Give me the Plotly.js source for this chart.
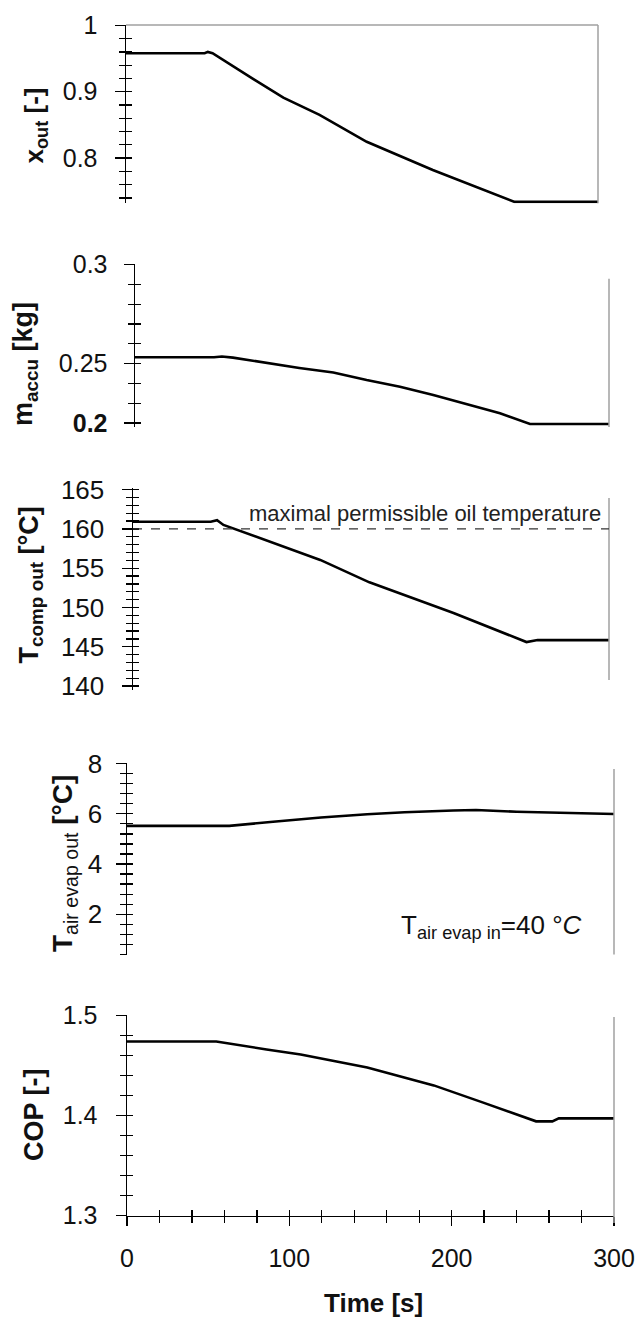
<!DOCTYPE html>
<html><head><meta charset="utf-8">
<script src="https://cdn.plot.ly/plotly-3.0.1.min.js"></script>
<style>html,body{margin:0;padding:0;background:#fff;} #chart{width:641px;height:1320px;}</style>
</head><body><div id="chart"></div>
<script>
// ---------------- DATA ----------------
const timeXout = [0, 50, 52, 55, 81, 100, 123, 153, 195, 238, 247, 300];
const xOut     = [0.958, 0.958, 0.960, 0.958, 0.919, 0.891, 0.865, 0.8245, 0.782, 0.742, 0.734, 0.734];

const timeMaccu = [0, 50, 55, 62, 104, 125.5, 146.6, 167.7, 188.8, 209.9, 231, 250, 300];
const mAccu     = [0.2532, 0.2532, 0.2536, 0.2530, 0.2478, 0.2455, 0.2417, 0.2383, 0.2341, 0.2296, 0.2249, 0.2195, 0.2195];

const timeTcomp = [0, 49, 53, 57, 118, 149, 202, 244, 248, 255, 300];
const tCompOut  = [160.9, 160.9, 161.1, 160.5, 156.05, 153.2, 149.3, 145.95, 145.6, 145.85, 145.85];
const oilLimit  = 160;

const timeTair  = [0, 63, 90, 119.5, 148, 171, 201, 215, 240, 270, 300];
const tAirOut   = [5.52, 5.52, 5.68, 5.85, 5.98, 6.06, 6.13, 6.15, 6.08, 6.02, 5.99];

const timeCop   = [0, 55, 86, 107, 148, 189, 219, 240, 252, 262, 266, 300];
const cop       = [1.474, 1.474, 1.466, 1.461, 1.448, 1.430, 1.413, 1.401, 1.394, 1.394, 1.397, 1.397];

// tick labels
const yTickVals1 = [0.8, 0.9, 1];      const yTickText1 = ['0.8', '0.9', '1'];
const yTickVals2 = [0.22, 0.25, 0.3];  const yTickText2 = ['<b>0.2</b>', '0.25', '0.3'];
const yTickVals3 = [140, 145, 150, 155, 160, 165]; const yTickText3 = ['140', '145', '150', '155', '160', '165'];
const yTickVals4 = [2, 4, 6, 8];       const yTickText4 = ['2', '4', '6', '8'];
const yTickVals5 = [1.3, 1.4, 1.5];    const yTickText5 = ['1.3', '1.4', '1.5'];
const xTickVals  = [0, 100, 200, 300]; const xTickText  = ['0', '100', '200', '300'];

const titles = [
  '<b>x<sub>out</sub> [-]</b>',
  '<b>m<sub>accu</sub> [kg]</b>',
  '<b>T<sub>comp out</sub> [°C]</b>',
  '<b>T</b><sub>air evap out</sub> <b>[°C]</b>',
  '<b>COP [-]</b>'
];
const limitLabel = 'maximal permissible oil temperature';
const inletLabel = 'T<sub>air evap in</sub>=40 °<i>C</i>';
const xTitle = '<b>Time [s]</b>';

// ---------------- LAYOUT HELPERS ----------------
const W = 641, H = 1320;
const P = py => 1 - py / H;
const Q = px => px / W;
const FONT = 'Liberation Sans, Arial, Helvetica, sans-serif';
const INK = '#111';

const xDom = [[Q(126), Q(598)], [Q(135), Q(609)], [Q(133), Q(609)], [Q(127), Q(614)], [Q(127), Q(614)]];
const yDom = [[P(203.2), P(25)], [P(426.9), P(264)], [P(690), P(488)], [P(954.5), P(763)], [P(1215.7), P(1015)]];
const yRng = [[0.732, 1.0005], [0.218, 0.3003], [139.5, 165.2], [0.4, 8.02], [1.2995, 1.5005]];
const minorStep = [0.02, 0.01, 1, 0.4, 0.02];
const tv = [yTickVals1, yTickVals2, yTickVals3, yTickVals4, yTickVals5];
const tt = [yTickText1, yTickText2, yTickText3, yTickText4, yTickText5];
const tickFont = [25, 25, 26, 26, 25];
const standoff = [12, 11, 12, 8, 13];

const layout = {
  width: W, height: H,
  margin: {l: 0, r: 0, t: 0, b: 0},
  paper_bgcolor: '#fff', plot_bgcolor: 'rgba(0,0,0,0)',
  showlegend: false, hovermode: false,
  font: {family: FONT, color: INK},
  annotations: [], shapes: []
};

const sfx = i => (i === 0 ? '' : String(i + 1));

for (let i = 0; i < 5; i++) {
  const xa = 'xaxis' + sfx(i), ya = 'yaxis' + sfx(i);
  layout[xa] = {
    domain: xDom[i], range: [0, 300], anchor: 'y' + sfx(i),
    visible: i === 4, fixedrange: true, showgrid: false, zeroline: false
  };
  layout[ya] = {
    domain: yDom[i], range: yRng[i], anchor: 'x' + sfx(i),
    showline: true, linecolor: '#000', linewidth: 1.5,
    showgrid: false, zeroline: false, fixedrange: true,
    tickmode: 'array', tickvals: tv[i], ticktext: tt[i],
    ticks: 'outside', ticklen: 10, tickwidth: 1.3, tickcolor: '#000',
    ticklabelstandoff: standoff[i],
    tickfont: {family: FONT, size: tickFont[i], color: INK},
    minor: {tickmode: 'linear', tick0: 0, dtick: minorStep[i], ticks: 'outside', ticklen: 6, tickwidth: 1.3, tickcolor: '#000', showgrid: false}
  };
  // twin axis giving the inner half of the cross ticks
  layout['yaxis' + (i + 6)] = {
    overlaying: 'y' + sfx(i), anchor: 'x' + sfx(i), side: 'left',
    range: yRng[i], showline: false, showgrid: false, zeroline: false, fixedrange: true,
    tickmode: 'array', tickvals: tv[i], showticklabels: false,
    ticks: 'inside', ticklen: 6, tickwidth: 1.3, tickcolor: '#000',
    minor: {tickmode: 'linear', tick0: 0, dtick: minorStep[i], ticks: 'inside', ticklen: 6, tickwidth: 1.3, tickcolor: '#000', showgrid: false}
  };
}

// bottom x axis (panel 5)
Object.assign(layout.xaxis5, {
  showline: true, linecolor: '#000', linewidth: 1.5,
  tickmode: 'array', tickvals: xTickVals, ticktext: xTickText,
  ticks: 'outside', ticklen: 9, tickwidth: 1.3, tickcolor: '#000',
  ticklabelstandoff: 11,
  tickfont: {family: FONT, size: 25, color: INK},
  minor: {tickmode: 'linear', tick0: 0, dtick: 20, ticks: 'outside', ticklen: 6, tickwidth: 1.3, tickcolor: '#000', showgrid: false}
});
layout.xaxis6 = {
  overlaying: 'x5', anchor: 'y5', side: 'bottom', range: [0, 300],
  showline: false, showgrid: false, zeroline: false, fixedrange: true,
  tickmode: 'array', tickvals: xTickVals, showticklabels: false,
  ticks: 'inside', ticklen: 6, tickwidth: 1.3, tickcolor: '#000',
  minor: {tickmode: 'linear', tick0: 0, dtick: 20, ticks: 'inside', ticklen: 6, tickwidth: 1.3, tickcolor: '#000', showgrid: false}
};

// y titles
const titleX = [35, 25, 30, 64, 34];
const titleY = [125.5, 364, 585.5, 864, 1115];
const titleSize = [26, 27, 27, 28, 27];
for (let i = 0; i < 5; i++) {
  layout.annotations.push({
    text: titles[i], xref: 'paper', yref: 'paper', x: Q(titleX[i]), y: P(titleY[i]),
    xanchor: 'center', yanchor: 'middle', textangle: -90, showarrow: false,
    font: {family: FONT, size: titleSize[i], color: INK}
  });
}
layout.annotations.push({
  text: limitLabel, xref: 'paper', yref: 'paper', x: Q(603), y: P(513),
  xanchor: 'right', yanchor: 'middle', showarrow: false,
  font: {family: FONT, size: 22, color: '#222'}
});
layout.annotations.push({
  text: inletLabel, xref: 'paper', yref: 'paper', x: Q(399), y: P(926),
  xanchor: 'left', yanchor: 'middle', showarrow: false,
  font: {family: FONT, size: 26, color: INK}
});
layout.annotations.push({
  text: xTitle, xref: 'paper', yref: 'paper', x: Q(373), y: P(1303),
  xanchor: 'center', yanchor: 'middle', showarrow: false,
  font: {family: FONT, size: 26, color: INK}
});

// frame lines (grey), as in the original spreadsheet charts
const frameCol = '#a0a0a0';
const frameY = [[0, 1], [0, 0.91], [0.05, 0.95], [0, 0.969], [-0.036, 0.99]];
for (let i = 0; i < 5; i++) {
  layout.shapes.push({
    type: 'line', xref: 'x' + sfx(i) + ' domain', yref: 'y' + sfx(i) + ' domain',
    x0: 1, x1: 1, y0: frameY[i][0], y1: frameY[i][1],
    line: {color: frameCol, width: 1.5}
  });
}
layout.shapes.push({
  type: 'line', xref: 'x domain', yref: 'y domain', x0: 0, x1: 1, y0: 1, y1: 1,
  line: {color: frameCol, width: 1.5}
});
// permissible oil temperature limit
layout.shapes.push({
  type: 'line', xref: 'x3 domain', yref: 'y3', x0: 0, x1: 1, y0: oilLimit, y1: oilLimit,
  line: {color: '#333', width: 1.2, dash: 'dash'}
});

// ---------------- TRACES ----------------
const series = [[timeXout, xOut], [timeMaccu, mAccu], [timeTcomp, tCompOut], [timeTair, tAirOut], [timeCop, cop]];
const data = [];
series.forEach((s, i) => {
  data.push({
    type: 'scatter', mode: 'lines', x: s[0], y: s[1],
    xaxis: 'x' + sfx(i), yaxis: 'y' + sfx(i),
    line: {color: '#000', width: 2.6}, hoverinfo: 'skip', cliponaxis: false
  });
  // invisible companion for the twin tick axis
  data.push({
    type: 'scatter', mode: 'lines', x: s[0], y: s[1],
    xaxis: 'x' + sfx(i), yaxis: 'y' + (i + 6),
    line: {color: 'rgba(0,0,0,0)', width: 0}, hoverinfo: 'skip'
  });
});
data.push({
  type: 'scatter', mode: 'lines', x: timeCop, y: cop, xaxis: 'x6', yaxis: 'y5',
  line: {color: 'rgba(0,0,0,0)', width: 0}, hoverinfo: 'skip'
});

Plotly.newPlot('chart', data, layout, {displayModeBar: false, staticPlot: true});
</script>
</body></html>
